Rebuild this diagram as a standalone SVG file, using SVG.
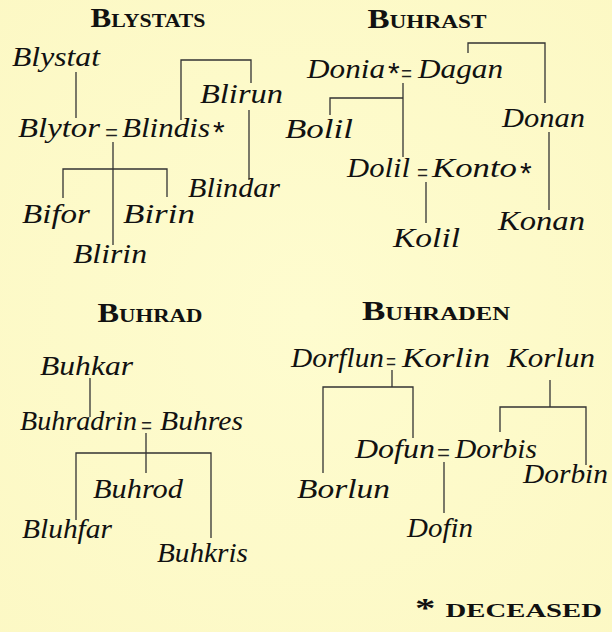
<svg xmlns="http://www.w3.org/2000/svg" width="612" height="632" viewBox="0 0 612 632">
<defs>
<radialGradient id="bg" cx="50%" cy="50%" r="75%">
<stop offset="0" stop-color="#fefccf"/>
<stop offset="1" stop-color="#fcf8c4"/>
</radialGradient>
<style>
.n{font-family:"Liberation Serif","DejaVu Serif",serif;font-style:italic;font-size:27px;fill:#111}
.h{font-family:"Liberation Serif","DejaVu Serif",serif;font-weight:bold;font-variant:small-caps;font-size:27px;fill:#111}
.eq{font-family:"Liberation Serif","DejaVu Serif",serif;font-size:30px;fill:#222}
.st{font-family:"Liberation Sans","DejaVu Sans",sans-serif;font-size:30px;fill:#111}
.c{fill:none;stroke:#333;stroke-width:1.3}
</style>
</defs>
<rect width="612" height="632" fill="url(#bg)"/>

<g id="connectors" class="c">
<!-- Blystats -->
<path d="M76 72V118"/>
<path d="M113 142V245"/>
<path d="M63 198V169H167V197"/>
<path d="M181 120V60H251V83"/>
<path d="M249 110V180"/>
<!-- Buhrast -->
<path d="M468 53V43H545V103"/>
<path d="M549 132V210"/>
<path d="M403 83V157"/>
<path d="M330 115V98H403"/>
<path d="M426 182V223"/>
<!-- Buhrad -->
<path d="M90 378V417"/>
<path d="M146 433V473"/>
<path d="M76 520V453H211V538"/>
<!-- Buhraden -->
<path d="M392 370V387"/>
<path d="M323 473V387H413V438"/>
<path d="M550 380V407"/>
<path d="M500 432V407H586V465"/>
<path d="M444 462V513"/>
</g>

<g id="headings">
<text class="h" x="148" y="27" text-anchor="middle" textLength="115" lengthAdjust="spacingAndGlyphs">Blystats</text>
<text class="h" x="427" y="28" text-anchor="middle" textLength="119" lengthAdjust="spacingAndGlyphs">Buhrast</text>
<text class="h" x="150" y="322" text-anchor="middle" textLength="105" lengthAdjust="spacingAndGlyphs">Buhrad</text>
<text class="h" x="436" y="320" text-anchor="middle" textLength="148" lengthAdjust="spacingAndGlyphs">Buhraden</text>
<text class="h" x="415" y="617" textLength="187" lengthAdjust="spacingAndGlyphs">* deceased</text>
</g>

<g id="marriages">
<text class="eq" x="105" y="143" textLength="13" lengthAdjust="spacingAndGlyphs">=</text>
<text class="eq" x="401" y="84" textLength="11" lengthAdjust="spacingAndGlyphs">=</text>
<text class="eq" x="417" y="183" textLength="11" lengthAdjust="spacingAndGlyphs">=</text>
<text class="eq" x="141" y="436" textLength="11" lengthAdjust="spacingAndGlyphs">=</text>
<text class="eq" x="386" y="372" textLength="10" lengthAdjust="spacingAndGlyphs">=</text>
<text class="eq" x="437" y="463" textLength="13" lengthAdjust="spacingAndGlyphs">=</text>
</g>

<g id="n-blystat"><text class="n" x="12" y="66" textLength="88" lengthAdjust="spacingAndGlyphs">Blystat</text></g>
<g id="n-blytor"><text class="n" x="18" y="137" textLength="82" lengthAdjust="spacingAndGlyphs">Blytor</text></g>
<g id="n-blindis"><text class="n" x="122" y="137" textLength="88" lengthAdjust="spacingAndGlyphs">Blindis</text><text class="st" x="213" y="142">*</text></g>
<g id="n-blirun"><text class="n" x="200" y="103" textLength="83" lengthAdjust="spacingAndGlyphs">Blirun</text></g>
<g id="n-blindar"><text class="n" x="188" y="197" textLength="92" lengthAdjust="spacingAndGlyphs">Blindar</text></g>
<g id="n-bifor"><text class="n" x="22" y="223" textLength="68" lengthAdjust="spacingAndGlyphs">Bifor</text></g>
<g id="n-birin"><text class="n" x="123" y="223" textLength="72" lengthAdjust="spacingAndGlyphs">Birin</text></g>
<g id="n-blirin"><text class="n" x="73" y="263" textLength="74" lengthAdjust="spacingAndGlyphs">Blirin</text></g>

<g id="n-donia"><text class="n" x="307" y="78" textLength="78" lengthAdjust="spacingAndGlyphs">Donia</text><text class="st" x="388" y="83">*</text></g>
<g id="n-dagan"><text class="n" x="418" y="78" textLength="85" lengthAdjust="spacingAndGlyphs">Dagan</text></g>
<g id="n-donan"><text class="n" x="502" y="127" textLength="83" lengthAdjust="spacingAndGlyphs">Donan</text></g>
<g id="n-konan"><text class="n" x="498" y="230" textLength="87" lengthAdjust="spacingAndGlyphs">Konan</text></g>
<g id="n-bolil"><text class="n" x="285" y="138" textLength="68" lengthAdjust="spacingAndGlyphs">Bolil</text></g>
<g id="n-dolil"><text class="n" x="347" y="177" textLength="63" lengthAdjust="spacingAndGlyphs">Dolil</text></g>
<g id="n-konto"><text class="n" x="432" y="177" textLength="85" lengthAdjust="spacingAndGlyphs">Konto</text><text class="st" x="520" y="183">*</text></g>
<g id="n-kolil"><text class="n" x="393" y="247" textLength="67" lengthAdjust="spacingAndGlyphs">Kolil</text></g>

<g id="n-buhkar"><text class="n" x="40" y="375" textLength="93" lengthAdjust="spacingAndGlyphs">Buhkar</text></g>
<g id="n-buhradrin"><text class="n" x="20" y="430" textLength="117" lengthAdjust="spacingAndGlyphs">Buhradrin</text></g>
<g id="n-buhres"><text class="n" x="160" y="430" textLength="83" lengthAdjust="spacingAndGlyphs">Buhres</text></g>
<g id="n-buhrod"><text class="n" x="93" y="498" textLength="90" lengthAdjust="spacingAndGlyphs">Buhrod</text></g>
<g id="n-bluhfar"><text class="n" x="22" y="538" textLength="90" lengthAdjust="spacingAndGlyphs">Bluhfar</text></g>
<g id="n-buhkris"><text class="n" x="157" y="562" textLength="91" lengthAdjust="spacingAndGlyphs">Buhkris</text></g>

<g id="n-dorflun"><text class="n" x="291" y="367" textLength="93" lengthAdjust="spacingAndGlyphs">Dorflun</text></g>
<g id="n-korlin"><text class="n" x="402" y="367" textLength="88" lengthAdjust="spacingAndGlyphs">Korlin</text></g>
<g id="n-korlun"><text class="n" x="507" y="367" textLength="88" lengthAdjust="spacingAndGlyphs">Korlun</text></g>
<g id="n-dofun"><text class="n" x="355" y="458" textLength="80" lengthAdjust="spacingAndGlyphs">Dofun</text></g>
<g id="n-dorbis"><text class="n" x="455" y="458" textLength="82" lengthAdjust="spacingAndGlyphs">Dorbis</text></g>
<g id="n-dorbin"><text class="n" x="523" y="483" textLength="85" lengthAdjust="spacingAndGlyphs">Dorbin</text></g>
<g id="n-borlun"><text class="n" x="297" y="498" textLength="93" lengthAdjust="spacingAndGlyphs">Borlun</text></g>
<g id="n-dofin"><text class="n" x="407" y="537" textLength="66" lengthAdjust="spacingAndGlyphs">Dofin</text></g>
</svg>
